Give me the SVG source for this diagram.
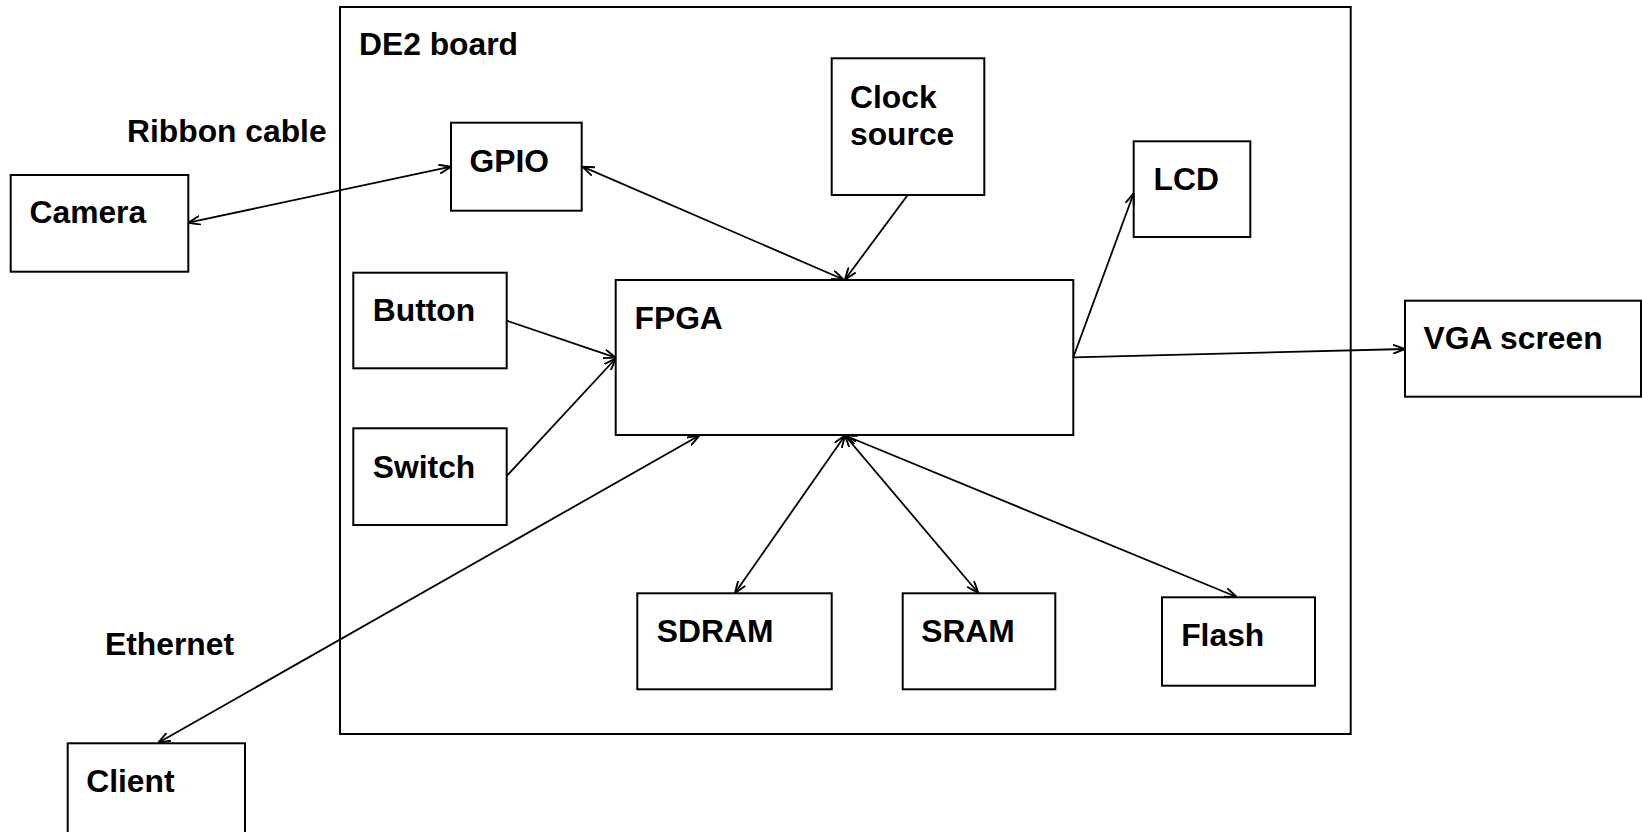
<svg xmlns="http://www.w3.org/2000/svg" width="1642" height="832" viewBox="0 0 1642 832">
<style>
.box{fill:#fff;stroke:#000;stroke-width:2}
.lbl{font-family:"Liberation Sans",Arial,sans-serif;font-weight:bold;font-size:31.8px;fill:#000}
.c{fill:none;stroke:#000;stroke-width:1.8}
.one{marker-end:url(#ah)}
.two{marker-start:url(#ah);marker-end:url(#ah)}
</style>
<defs>
<marker id="ah" viewBox="0 0 12 10" refX="12" refY="5" markerWidth="12" markerHeight="10" markerUnits="userSpaceOnUse" orient="auto-start-reverse">
<path d="M0,0.5 L12,5 L0,9.5" fill="none" stroke="#000" stroke-width="1.9"/>
</marker>
</defs>
<rect width="1642" height="832" fill="#fff"/>
<g id="de2board"><rect class="box" x="340" y="7" width="1010.7" height="727" fill="none"/><text class="lbl" x="359" y="55">DE2 board</text></g>
<g id="lbl-ribbon"><text class="lbl" x="127" y="142">Ribbon cable</text></g>
<g id="lbl-ethernet"><text class="lbl" x="105" y="655">Ethernet</text></g>
<g id="camera"><rect class="box" x="10.7" y="175" width="177.6" height="96.7"/><text class="lbl" x="29.5" y="223">Camera</text></g>
<g id="gpio"><rect class="box" x="451" y="122.7" width="130.7" height="88"/><text class="lbl" x="469.5" y="171.5">GPIO</text></g>
<g id="clock"><rect class="box" x="831.7" y="58.3" width="152.6" height="136.7"/><text class="lbl" x="850" y="108">Clock</text><text class="lbl" x="850" y="145">source</text></g>
<g id="lcd"><rect class="box" x="1133.7" y="141.3" width="116.6" height="95.7"/><text class="lbl" x="1153.5" y="190">LCD</text></g>
<g id="button"><rect class="box" x="353.3" y="272.7" width="153.4" height="95.6"/><text class="lbl" x="372.8" y="321">Button</text></g>
<g id="switch"><rect class="box" x="353.3" y="428.3" width="153.4" height="96.7"/><text class="lbl" x="372.8" y="477.5">Switch</text></g>
<g id="fpga"><rect class="box" x="615.7" y="280" width="457.6" height="155"/><text class="lbl" x="634.5" y="329">FPGA</text></g>
<g id="vga"><rect class="box" x="1405" y="300.7" width="236" height="96"/><text class="lbl" x="1423.5" y="349">VGA screen</text></g>
<g id="sdram"><rect class="box" x="637.3" y="593.3" width="194.4" height="96"/><text class="lbl" x="656.8" y="641.5">SDRAM</text></g>
<g id="sram"><rect class="box" x="902.7" y="593.3" width="152.6" height="96"/><text class="lbl" x="921.2" y="641.5">SRAM</text></g>
<g id="flash"><rect class="box" x="1162" y="597.3" width="153" height="88.4"/><text class="lbl" x="1181.2" y="646">Flash</text></g>
<g id="client"><rect class="box" x="67.7" y="743.3" width="177.3" height="100"/><text class="lbl" x="86.2" y="791.5">Client</text></g>
<g id="connectors">
<line class="c two" x1="188.3" y1="222.7" x2="451" y2="166.7"/>
<line class="c two" x1="582.5" y1="166.7" x2="843.5" y2="279.5"/>
<line class="c one" x1="907.7" y1="195" x2="845" y2="279.5"/>
<line class="c one" x1="506.7" y1="320.7" x2="615.7" y2="357.7"/>
<line class="c one" x1="506.7" y1="476" x2="615.7" y2="358.5"/>
<line class="c one" x1="1073.3" y1="357.3" x2="1133.7" y2="193.3"/>
<line class="c one" x1="1073.3" y1="357.3" x2="1405" y2="349"/>
<line class="c two" x1="699.3" y1="435.5" x2="158.3" y2="742.7"/>
<line class="c two" x1="845" y1="435.5" x2="735" y2="593"/>
<line class="c two" x1="845" y1="435.5" x2="978.3" y2="593"/>
<line class="c two" x1="845" y1="435.5" x2="1236.7" y2="597"/>
</g>
</svg>
